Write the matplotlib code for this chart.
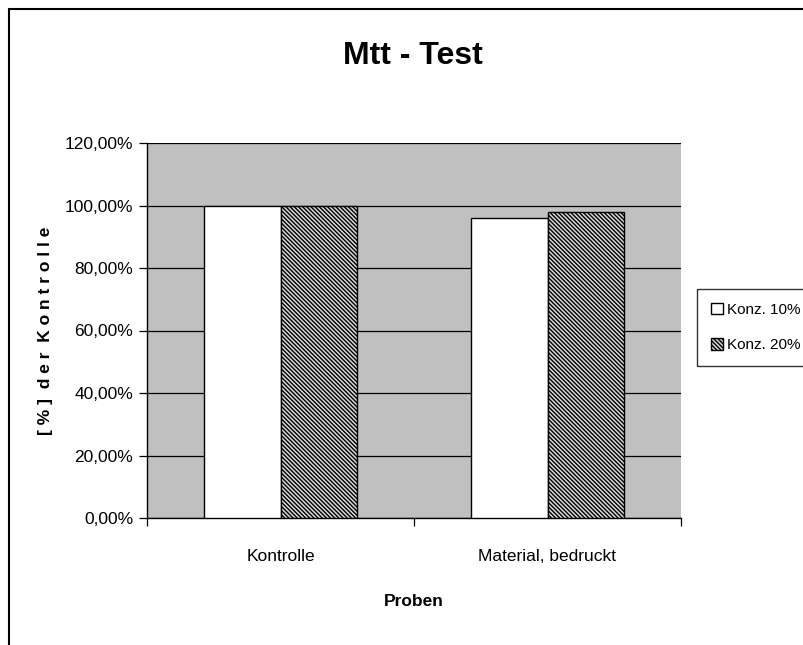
import numpy as np
import matplotlib
matplotlib.use("Agg")
import matplotlib.pyplot as plt
from matplotlib.patches import Rectangle
from matplotlib.ticker import FuncFormatter, MultipleLocator

plt.rcParams['font.family'] = ['Liberation Sans', 'DejaVu Sans']
plt.rcParams['hatch.linewidth'] = 1.0

categories = ["Kontrolle", "Material, bedruckt"]
series_names = ["Konz. 10%", "Konz. 20%"]
konz_10 = [1.00, 0.96]
konz_20 = [1.00, 0.98]
y_ticks = [0.0, 0.2, 0.4, 0.6, 0.8, 1.0, 1.2]

W, H = 804, 645
fig = plt.figure(figsize=(W / 100, H / 100), dpi=100)

# outer chart border (right and bottom run off the image)
fig.patches.append(Rectangle((9 / W, -0.05), 1.1, 1 - 9 / H + 0.05,
                             transform=fig.transFigure, fill=False,
                             edgecolor='black', linewidth=1.5))

# plot area in pixels: x 147..681, y 143..518
ax = fig.add_axes([147 / W, 1 - 518 / H, (681 - 147) / W, (518 - 143) / H])
ax.set_facecolor('#c0c0c0')

x = np.arange(len(categories))
bw = 0.287
ax.bar(x - bw / 2, konz_10, bw, color='white', edgecolor='black',
       linewidth=1.0, label=series_names[0], zorder=3)
ax.bar(x + bw / 2, konz_20, bw, color='#d8d8d8', edgecolor='black',
       hatch='\\\\\\\\\\\\\\\\', linewidth=1.0, label=series_names[1], zorder=3)

ax.set_xlim(-0.5, len(categories) - 0.5)
ax.set_ylim(0, 1.2)
ax.set_yticks(y_ticks)
ax.yaxis.set_major_formatter(FuncFormatter(lambda v, p: f"{v * 100:.2f}%".replace('.', ',')))
ax.grid(axis='y', color='black', linewidth=0.9, zorder=1)
ax.set_axisbelow(True)

ax.set_xticks(x)
ax.set_xticklabels(categories, fontsize=12.5)
ax.xaxis.set_minor_locator(MultipleLocator(1, offset=0.5))
ax.tick_params(axis='x', which='major', length=0, pad=22)
ax.tick_params(axis='x', which='minor', length=6, width=0.9, direction='out')
ax.tick_params(axis='y', length=6, width=0.9, direction='out', labelsize=12.5, pad=4)

for s in ['top', 'right']:
    ax.spines[s].set_visible(False)
for s in ['left', 'bottom']:
    ax.spines[s].set_linewidth(1.0)

ax.set_xlabel("Proben", fontsize=12.5, fontweight='bold', labelpad=22)
ax.set_ylabel("[ % ]  d e r  K o n t r o l l e", fontsize=12.5, fontweight='bold', labelpad=8)

fig.text(413 / W, 1 - 56 / H, "Mtt - Test", fontsize=23, fontweight='bold',
         ha='center', va='center')

leg = fig.legend(loc='upper left', bbox_to_anchor=(697 / W, 1 - 289 / H),
                 fontsize=11, frameon=True, fancybox=False, handlelength=0.8,
                 handleheight=0.8, handletextpad=0.25, borderpad=0.9,
                 labelspacing=1.4, borderaxespad=0)
leg.get_frame().set_edgecolor('black')
leg.get_frame().set_linewidth(1.0)

fig.savefig("out.png", dpi=100)
